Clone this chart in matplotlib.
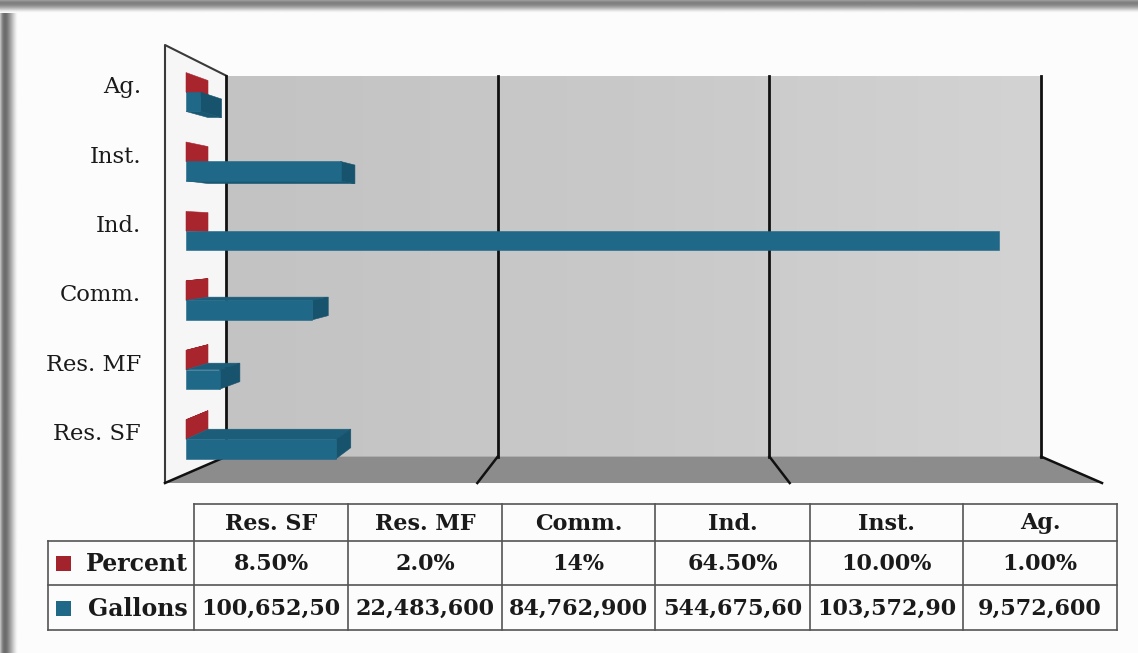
import numpy as np
import matplotlib
matplotlib.use("Agg")
import matplotlib.pyplot as plt
from matplotlib.patches import Polygon, Rectangle

# data
categories = ["Res. SF", "Res. MF", "Comm.", "Ind.", "Inst.", "Ag."]
percent = [8.5, 2.0, 14, 64.5, 10.0, 1.0]
gallons = [100652500, 22483600, 84762900, 544675600, 103572900, 9572600]
percent_text = ["8.50%", "2.0%", "14%", "64.50%", "10.00%", "1.00%"]
gallons_text = ["100,652,50", "22,483,600", "84,762,900", "544,675,60", "103,572,90", "9,572,600"]
grid_ticks = [0, 200, 400, 600]   # millions of gallons

RED = "#a3232c"
BLUE = "#1f6887"
plt.rcParams["font.family"] = ["DejaVu Serif"]

W, H = 1138, 653
fig = plt.figure(figsize=(W / 100, H / 100), dpi=100)
fig.patch.set_facecolor("#fcfcfc")

# chart axes: x in millions of gallons, y in category units (front plane)
ax = fig.add_axes([0, 0, 1, 1])
PX0, PXS = 165, 1.5617      # px of x=0, px per million
PY0, PYS = 448.8, 72.7      # px of y=0, px per category
ax.set_xlim((0 - PX0) / PXS, (W - PX0) / PXS)
ax.set_ylim((PY0 - H) / PYS, PY0 / PYS)
ax.axis("off")

# perspective: depth s pulls points toward a vanishing point
VX = (634 - PX0) / PXS
VY_WALL = (PY0 - 280) / PYS
VY_BAR = (PY0 - 235) / PYS
SB = 0.13                    # back wall depth
S1, S2 = 0.0448, 0.0917      # bar depth range
BOT = (PY0 - 483) / PYS
TOP = (PY0 - 45) / PYS


def P(x, y, s, vy):
    return (x + s * (VX - x), y + s * (vy - y))


xmax = grid_ticks[-1]
# back wall with soft gradient
back = [P(0, BOT, SB, VY_WALL), P(xmax, BOT, SB, VY_WALL),
        P(xmax, TOP, SB, VY_WALL), P(0, TOP, SB, VY_WALL)]
bpoly = Polygon(back, closed=True, fc="none", ec="none", zorder=1)
ax.add_patch(bpoly)
grad = np.linspace(0, 1, 256).reshape(1, -1)
im = ax.imshow(grad, cmap=matplotlib.colors.LinearSegmentedColormap.from_list(
    "wall", ["#c3c3c3", "#c9c9c9", "#d3d3d3"]),
    extent=[back[0][0], back[1][0], back[0][1], back[2][1]],
    aspect="auto", zorder=1, origin="lower")
im.set_clip_path(bpoly)

# side wall
side = [P(0, BOT, 0, VY_WALL), P(0, TOP, 0, VY_WALL),
        P(0, TOP, SB, VY_WALL), P(0, BOT, SB, VY_WALL)]
ax.add_patch(Polygon(side, closed=True, fc="#f6f6f6", ec="none", zorder=1))
ax.plot(*zip(side[0], side[1], side[2]), color="#3a3a3a", lw=1.5, zorder=2)

# floor
floor = [P(0, BOT, 0, VY_WALL), P(xmax, BOT, 0, VY_WALL),
         P(xmax, BOT, SB, VY_WALL), P(0, BOT, SB, VY_WALL)]
ax.add_patch(Polygon(floor, closed=True, fc="#8c8c8c", ec="none", zorder=1))

# grid lines
for g in grid_ticks:
    a = P(g, BOT, SB, VY_WALL)
    b = P(g, TOP, SB, VY_WALL)
    c = P(g, BOT, 0, VY_WALL)
    ax.plot([a[0], b[0]], [a[1], b[1]], color="#111111", lw=2, zorder=2)
    ax.plot([a[0], c[0]], [a[1], c[1]], color="#111111", lw=1.8, zorder=2)


def box(w, y0, y1, front, side_c, topc, botc, z):
    faces = []
    if y1 < VY_BAR:
        faces.append(([P(0, y1, S1, VY_BAR), P(w, y1, S1, VY_BAR),
                       P(w, y1, S2, VY_BAR), P(0, y1, S2, VY_BAR)], topc))
    if y0 > VY_BAR:
        faces.append(([P(0, y0, S1, VY_BAR), P(w, y0, S1, VY_BAR),
                       P(w, y0, S2, VY_BAR), P(0, y0, S2, VY_BAR)], botc))
    if w < VX:
        faces.append(([P(w, y0, S1, VY_BAR), P(w, y1, S1, VY_BAR),
                       P(w, y1, S2, VY_BAR), P(w, y0, S2, VY_BAR)], side_c))
    faces.append(([P(0, y0, S1, VY_BAR), P(w, y0, S1, VY_BAR),
                   P(w, y1, S1, VY_BAR), P(0, y1, S1, VY_BAR)], front))
    for pts, c in faces:
        ax.add_patch(Polygon(pts, closed=True, fc=c, ec=c, lw=0.4, zorder=z))


BH = 0.28
for i, cat in enumerate(categories):
    box(percent[i] / 1e6, i, i + BH, RED, "#a8252e", "#8e1d25", "#9a2029", 3 + i * 2)
    box(gallons[i] / 1e6, i - BH, i, BLUE, "#18536d", "#1c5d7a", "#195872", 4 + i * 2)
    ly = P(0, i + 0.07, S1, VY_BAR)[1]
    ax.text((141 - PX0) / PXS, ly, cat, ha="right", va="center",
            fontsize=16.3, color="#1a1a1a")

# overlay axes in pixels for frame and data table
axp = fig.add_axes([0, 0, 1, 1], zorder=5)
axp.set_xlim(0, W)
axp.set_ylim(H, 0)
axp.axis("off")
axp.patch.set_alpha(0)

# picture frame on left and top
left_g = np.array([[0.74, 0.62, 0.50, 0.44, 0.42, 0.44, 0.48, 0.53, 0.58, 0.64,
                    0.70, 0.77, 0.84, 0.90, 0.95, 0.98]])
axp.imshow(left_g, cmap="gray", vmin=0, vmax=1, extent=[0, 18, H, 0], aspect="auto", zorder=1)
top_g = np.array([[0.60], [0.54], [0.50], [0.50], [0.53], [0.58], [0.64], [0.72],
                  [0.80], [0.88], [0.94], [0.98]])
axp.imshow(top_g, cmap="gray", vmin=0, vmax=1, extent=[0, W, 13, 0], aspect="auto", zorder=1)
axp.set_xlim(0, W)
axp.set_ylim(H, 0)

# table
cols = [194, 348, 502, 655, 810, 963, 1117]
rows = [504, 541, 585, 630]
lab_l = 48
lc = "#555555"
axp.plot([cols[0], cols[-1]], [rows[0], rows[0]], color=lc, lw=1.2)
for r in rows[1:]:
    axp.plot([lab_l, cols[-1]], [r, r], color=lc, lw=1.2)
axp.plot([lab_l, lab_l], [rows[1], rows[-1]], color=lc, lw=1.2)
for c in cols:
    axp.plot([c, c], [rows[0], rows[-1]], color=lc, lw=1.2)

tkw = dict(fontsize=16, fontweight="bold", color="#1a1a1a", ha="center", va="center")
for j, cat in enumerate(categories):
    xc = (cols[j] + cols[j + 1]) / 2
    axp.text(xc, (rows[0] + rows[1]) / 2 + 1, cat, **tkw)
    axp.text(xc, (rows[1] + rows[2]) / 2 + 1, percent_text[j], **tkw)
    axp.text(xc, (rows[2] + rows[3]) / 2 + 1, gallons_text[j], **tkw)

for k, (name, col) in enumerate([("Percent", RED), ("Gallons", BLUE)]):
    yc = (rows[k + 1] + rows[k + 2]) / 2
    axp.add_patch(Rectangle((56, yc - 7), 15, 15, fc=col, ec="none"))
    axp.text(188, yc + 1, name, fontsize=17, fontweight="bold", color="#1a1a1a",
             ha="right", va="center")

fig.savefig("out.png", dpi=100, facecolor=fig.get_facecolor())
